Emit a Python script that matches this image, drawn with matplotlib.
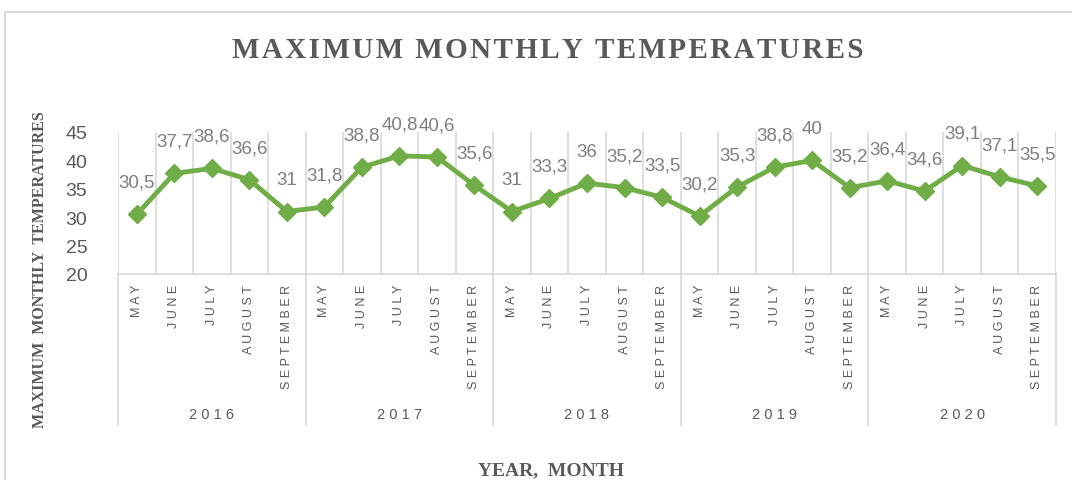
import matplotlib.pyplot as plt
from matplotlib.patches import Rectangle
import matplotlib.transforms as mtransforms

years = ["2016", "2017", "2018", "2019", "2020"]
months = ["MAY", "JUNE", "JULY", "AUGUST", "SEPTEMBER"]
temps = [30.5, 37.7, 38.6, 36.6, 31,
         31.8, 38.8, 40.8, 40.6, 35.6,
         31, 33.3, 36, 35.2, 33.5,
         30.2, 35.3, 38.8, 40, 35.2,
         36.4, 34.6, 39.1, 37.1, 35.5]

green = "#70AD47"
grey = "#595959"
lightgrey = "#7F7F7F"
gridc = "#D9D9D9"
HS = "\u200a"

def spaced(s, sep=" "):
    return sep.join(list(s))

fig = plt.figure(figsize=(10.72, 4.81), dpi=100)
ax = fig.add_axes([118 / 1072, 1 - 275 / 481, (1056 - 118) / 1072, 142 / 481])

n = len(temps)
x = list(range(n))
ax.plot(x, temps, color=green, lw=3.5, marker="D", ms=9, mec=green, zorder=3)

for xi, v in zip(x, temps):
    lab = f"{v:g}".replace(".", ",")
    ax.annotate(lab, (xi, v), xytext=(0, 17), textcoords="offset points",
                ha="center", va="bottom", fontsize=13.5, color=lightgrey,
                family="Liberation Sans")

ax.set_xlim(-0.5, n - 0.5)
ax.set_ylim(20, 45)
ax.set_yticks([20, 25, 30, 35, 40, 45])
ax.tick_params(axis="y", length=0, pad=22, labelsize=14, labelcolor=grey)
for t in ax.get_yticklabels():
    t.set_family("Liberation Sans")
ax.set_xticks([])
for s in ["top", "right", "left"]:
    ax.spines[s].set_visible(False)
ax.spines["bottom"].set_color(gridc)
ax.spines["bottom"].set_linewidth(1.2)

# vertical gridlines at category boundaries
for k in range(n + 1):
    ax.axvline(k - 0.5, color=gridc, lw=1.2, zorder=1)

trans = mtransforms.blended_transform_factory(ax.transData, ax.transAxes)
# year separators below the axis
for g in range(len(years) + 1):
    ax.plot([g * 5 - 0.5, g * 5 - 0.5], [0, -1.06], color=gridc, lw=1.2,
            transform=trans, clip_on=False)

for i in range(n):
    ax.text(i, -0.07, spaced(months[i % 5]), rotation=90, ha="center", va="top",
            fontsize=9, color=grey, transform=trans, family="Liberation Sans")

for g, yr in enumerate(years):
    ax.text(g * 5 + 2, -0.985, spaced(yr), ha="center", va="center",
            fontsize=10.5, color=grey, transform=trans, family="Liberation Sans")

serif = ["Liberation Serif", "DejaVu Serif"]
fig.text(548 / 1072, 1 - 50 / 481, spaced("MAXIMUM MONTHLY TEMPERATURES", HS),
         ha="center", va="center", fontsize=21, fontweight="bold", color=grey,
         family=serif)
fig.text(40 / 1072, 1 - 270 / 481, "MAXIMUM  MONTHLY  TEMPERATURES", rotation=90,
         ha="center", va="center", fontsize=11.5, fontweight="bold", color=grey,
         family=serif)
fig.text(551 / 1072, 1 - 471 / 481, "YEAR,  MONTH", ha="center", va="center",
         fontsize=14, fontweight="bold", color=grey, family=serif)

fig.patches.append(Rectangle((5 / 1072, -0.05), 1.1, 1.05 - 13 / 481,
                             transform=fig.transFigure, fill=False,
                             edgecolor=gridc, lw=1.5))

fig.savefig("out.png", dpi=100)
